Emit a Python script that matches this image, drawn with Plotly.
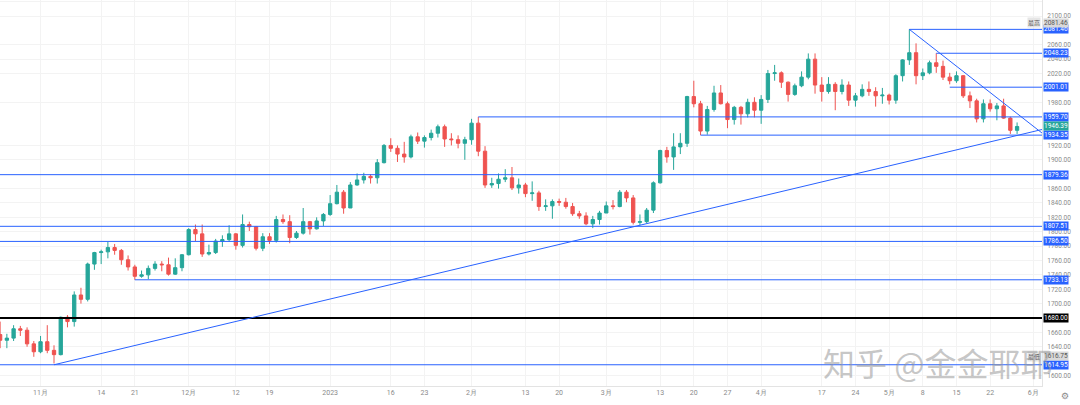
import plotly.graph_objects as go

# ---------------- data ----------------
dates = [
    "2022-10-24", "2022-10-25", "2022-10-26", "2022-10-27", "2022-10-28", "2022-10-31",
    "2022-11-01", "2022-11-02", "2022-11-03", "2022-11-04", "2022-11-07", "2022-11-08",
    "2022-11-09", "2022-11-10", "2022-11-11", "2022-11-14", "2022-11-15", "2022-11-16",
    "2022-11-17", "2022-11-18", "2022-11-21", "2022-11-22", "2022-11-23", "2022-11-24",
    "2022-11-25", "2022-11-28", "2022-11-29", "2022-11-30", "2022-12-01", "2022-12-02",
    "2022-12-05", "2022-12-06", "2022-12-07", "2022-12-08", "2022-12-09", "2022-12-12",
    "2022-12-13", "2022-12-14", "2022-12-15", "2022-12-16", "2022-12-19", "2022-12-20",
    "2022-12-21", "2022-12-22", "2022-12-23", "2022-12-27", "2022-12-28", "2022-12-29",
    "2022-12-30", "2023-01-03", "2023-01-04", "2023-01-05", "2023-01-06", "2023-01-09",
    "2023-01-10", "2023-01-11", "2023-01-12", "2023-01-13", "2023-01-16", "2023-01-17",
    "2023-01-18", "2023-01-19", "2023-01-20", "2023-01-23", "2023-01-24", "2023-01-25",
    "2023-01-26", "2023-01-27", "2023-01-30", "2023-01-31", "2023-02-01", "2023-02-02",
    "2023-02-03", "2023-02-06", "2023-02-07", "2023-02-08", "2023-02-09", "2023-02-10",
    "2023-02-13", "2023-02-14", "2023-02-15", "2023-02-16", "2023-02-17", "2023-02-20",
    "2023-02-21", "2023-02-22", "2023-02-23", "2023-02-24", "2023-02-27", "2023-02-28",
    "2023-03-01", "2023-03-02", "2023-03-03", "2023-03-06", "2023-03-07", "2023-03-08",
    "2023-03-09", "2023-03-10", "2023-03-13", "2023-03-14", "2023-03-15", "2023-03-16",
    "2023-03-17", "2023-03-20", "2023-03-21", "2023-03-22", "2023-03-23", "2023-03-24",
    "2023-03-27", "2023-03-28", "2023-03-29", "2023-03-30", "2023-03-31", "2023-04-03",
    "2023-04-04", "2023-04-05", "2023-04-06", "2023-04-10", "2023-04-11", "2023-04-12",
    "2023-04-13", "2023-04-14", "2023-04-17", "2023-04-18", "2023-04-19", "2023-04-20",
    "2023-04-21", "2023-04-24", "2023-04-25", "2023-04-26", "2023-04-27", "2023-04-28",
    "2023-05-01", "2023-05-02", "2023-05-03", "2023-05-04", "2023-05-05", "2023-05-08",
    "2023-05-09", "2023-05-10", "2023-05-11", "2023-05-12", "2023-05-15", "2023-05-16",
    "2023-05-17", "2023-05-18", "2023-05-19", "2023-05-22", "2023-05-23", "2023-05-24",
    "2023-05-25", "2023-05-26",
]

opens = [
    1657, 1649, 1652, 1665, 1663, 1644, 1633, 1647, 1635, 1629, 1681, 1675,
    1712, 1706, 1755, 1771, 1772, 1778, 1774, 1761, 1751, 1738, 1740, 1749,
    1755, 1754, 1741, 1750, 1768, 1803, 1797, 1769, 1771, 1787, 1789, 1797,
    1781, 1810, 1807, 1777, 1793, 1788, 1817, 1814, 1792, 1798, 1814, 1804,
    1815, 1824, 1839, 1855, 1833, 1865, 1872, 1877, 1875, 1896, 1920, 1916,
    1908, 1904, 1932, 1926, 1931, 1937, 1946, 1929, 1928, 1923, 1928, 1951,
    1912, 1865, 1867, 1873, 1875, 1861, 1865, 1853, 1854, 1835, 1836, 1842,
    1841, 1835, 1825, 1822, 1811, 1817, 1826, 1836, 1835, 1855, 1847, 1813,
    1814, 1830, 1868, 1913, 1904, 1918, 1923, 1988, 1978, 1940, 1970, 1993,
    1978, 1956, 1973, 1964, 1980, 1969, 1984, 2020, 2021, 2008, 1991, 2003,
    2015, 2040, 2004, 1995, 2005, 1995, 2004, 1983, 1989, 1998, 1995, 1989,
    1990, 1983, 2017, 2039, 2049, 2017, 2021, 2035, 2030, 2015, 2010, 2017,
    1989, 1982, 1957, 1978, 1971, 1975, 1958, 1941,
]
highs = [
    1675, 1658, 1670, 1669, 1667, 1648, 1655, 1670, 1642, 1682, 1684, 1717,
    1722, 1757, 1772, 1775, 1786, 1783, 1776, 1767, 1754, 1746, 1753, 1759,
    1759, 1764, 1763, 1769, 1805, 1810, 1810, 1782, 1790, 1795, 1809, 1798,
    1824, 1814, 1808, 1798, 1798, 1822, 1824, 1823, 1801, 1833, 1815, 1820,
    1826, 1851, 1865, 1858, 1869, 1881, 1882, 1880, 1901, 1922, 1930, 1920,
    1925, 1935, 1938, 1934, 1942, 1949, 1949, 1937, 1934, 1932, 1957, 1959.70,
    1919, 1875, 1881, 1887, 1890, 1874, 1868, 1870, 1857, 1845, 1845, 1846,
    1847, 1840, 1829, 1827, 1822, 1829, 1842, 1844, 1858, 1858, 1851, 1824,
    1833, 1870, 1914, 1918, 1937, 1937, 1989, 2010, 1982, 1975, 2003, 2004,
    1981, 1975, 1975, 1985, 1987, 1990, 2025, 2032, 2023, 2009, 2006, 2023,
    2048, 2048, 2015, 2015, 2008, 2012, 2009, 1993, 2005, 2009, 2001, 2000,
    1992, 2019, 2040, 2081.46, 2062, 2027, 2038, 2048.23, 2038, 2021, 2023, 2018,
    1995, 1985, 1984, 1984, 1979, 1985, 1960, 1952,
]
lows = [
    1638, 1638, 1648, 1655, 1640, 1626, 1631, 1631, 1616.75, 1628, 1667, 1668,
    1700, 1703, 1747, 1755, 1763, 1768, 1754, 1746, 1733.13, 1736, 1734, 1746,
    1745, 1739, 1740, 1745, 1767, 1787, 1765, 1767, 1769, 1779, 1786, 1775,
    1778, 1801, 1774, 1773, 1783, 1785, 1811, 1784, 1790, 1796, 1796, 1803,
    1808, 1822, 1838, 1825, 1833, 1864, 1867, 1867, 1867, 1895, 1911, 1897,
    1896, 1902, 1922, 1917, 1927, 1931, 1918, 1920, 1916, 1900, 1921, 1905,
    1861, 1861, 1860, 1869, 1858, 1853, 1848, 1843, 1829, 1829, 1818, 1836,
    1832, 1822, 1818, 1809, 1805, 1810, 1826, 1831, 1834, 1841, 1810, 1809,
    1812, 1826, 1867, 1896, 1886, 1908, 1918, 1973, 1934.35, 1935, 1967, 1977,
    1944, 1949, 1949, 1959, 1959, 1950, 1979, 2010, 2000, 1981, 1989, 2001,
    2012, 1992, 1981, 1992, 1969, 1991, 1975, 1974, 1987, 1989, 1974, 1978,
    1977, 1978, 2009, 2032, 2005, 2011, 2019, 2021, 2011, 2005, 2007, 1986,
    1972, 1952, 1952, 1967, 1955, 1957, 1936, 1936,
]
closes = [
    1649, 1652, 1665, 1663, 1644, 1633, 1647, 1635, 1629, 1681, 1675, 1712,
    1706, 1755, 1771, 1772, 1778, 1774, 1761, 1751, 1738, 1740, 1749, 1755,
    1754, 1741, 1750, 1768, 1803, 1797, 1769, 1771, 1787, 1789, 1797, 1781,
    1810, 1807, 1777, 1793, 1788, 1817, 1814, 1792, 1798, 1814, 1804, 1815,
    1824, 1839, 1855, 1833, 1865, 1872, 1877, 1875, 1896, 1920, 1916, 1908,
    1904, 1932, 1926, 1931, 1937, 1946, 1929, 1928, 1923, 1928, 1951, 1912,
    1865, 1867, 1873, 1875, 1861, 1865, 1853, 1854, 1835, 1836, 1842, 1841,
    1835, 1825, 1822, 1811, 1817, 1826, 1836, 1835, 1855, 1847, 1813, 1814,
    1830, 1868, 1913, 1904, 1918, 1923, 1988, 1978, 1940, 1970, 1993, 1978,
    1956, 1973, 1964, 1980, 1969, 1984, 2020, 2021, 2008, 1991, 2003, 2015,
    2040, 2004, 1995, 2005, 1995, 2004, 1983, 1989, 1998, 1995, 1989, 1990,
    1983, 2017, 2039, 2049, 2017, 2021, 2035, 2030, 2015, 2010, 2017, 1989,
    1982, 1957, 1978, 1971, 1975, 1958, 1941, 1946.39,
]

# x-axis labels (date where the label sits, and its text)
tick_dates = ["2022-10-24", "2022-11-01", "2022-11-14", "2022-11-21", "2022-12-01",
              "2022-12-12", "2022-12-19", "2023-01-03", "2023-01-16", "2023-01-23",
              "2023-02-01", "2023-02-13", "2023-02-20", "2023-03-01", "2023-03-13",
              "2023-03-20", "2023-03-27", "2023-04-03", "2023-04-17", "2023-04-24",
              "2023-05-01", "2023-05-08", "2023-05-15", "2023-05-22"]
tick_texts = ["24", "11月", "14", "21", "12月", "12", "19", "2023", "16", "23", "2月",
              "13", "20", "3月", "13", "20", "27", "4月", "17", "24", "5月", "8", "15", "22"]

# horizontal levels: price and start date (None = full width)
level_prices = [2081.46, 2048.23, 2001.01, 1959.70, 1934.35, 1879.36, 1807.51, 1786.50, 1733.13, 1614.95]
level_starts = ["2023-05-04", "2023-05-10", "2023-05-12", "2023-02-02", "2023-03-21",
                None, None, None, "2022-11-21", None]
key_level = 1680.00

# high / low markers on the price scale: tag, value, price where the label is drawn
high_mark = ("最高", max(highs), 2091.0)
low_mark = ("最低", min(lows), 1627.0)

# trend-line anchor points (date, price)
rise_anchor = [("2022-11-03", 1614.95), ("2023-03-08", 1809.0)]
fall_anchor = [("2023-05-04", 2081.46), ("2023-05-24", 1979.0)]

y_ticks = [1580, 1600, 1640, 1660, 1700, 1720, 1740, 1760, 1780, 1800, 1820,
           1840, 1860, 1900, 1920, 1980, 2020, 2040, 2060, 2100, 2120]

# ---------------- figure ----------------
W, H = 1080, 405
PLOT_R = 1042
PLOT_B = 386
X_RANGE = [-0.02, 154.7]
Y_RANGE = [1585.4, 2122.3]

xi = list(range(len(dates)))
pos = {d: i for i, d in enumerate(dates)}

GREEN = "#26a69a"
RED = "#ef5350"
BLUE = "#2962ff"

fig = go.Figure()
fig.add_trace(go.Candlestick(
    x=xi, open=opens, high=highs, low=lows, close=closes,
    increasing=dict(line=dict(color=GREEN, width=1), fillcolor=GREEN),
    decreasing=dict(line=dict(color=RED, width=1), fillcolor=RED),
    whiskerwidth=0, showlegend=False, hoverinfo="skip",
))

shapes = []
annotations = []

x_end = X_RANGE[1]
for p, s in zip(level_prices, level_starts):
    x0 = X_RANGE[0] if s is None else pos[s]
    shapes.append(dict(type="line", xref="x", yref="y", x0=x0, x1=x_end, y0=p, y1=p,
                       line=dict(color=BLUE, width=1)))
shapes.append(dict(type="line", xref="x", yref="y", x0=X_RANGE[0], x1=x_end,
                   y0=key_level, y1=key_level, line=dict(color="#000000", width=2)))


def trend(anchor):
    (d0, p0), (d1, p1) = anchor
    i0, i1 = pos[d0], pos[d1]
    slope = (p1 - p0) / (i1 - i0)
    return dict(type="line", xref="x", yref="y", x0=i0, y0=p0,
                x1=x_end, y1=p0 + slope * (x_end - i0),
                line=dict(color=BLUE, width=1))


shapes.append(trend(rise_anchor))
shapes.append(trend(fall_anchor))

LBL_FONT = dict(family="Roboto, Arial", size=6.5)


def price_label(y, text, bg, fg="white"):
    annotations.append(dict(xref="paper", yref="y", x=1, y=y, xanchor="left", yanchor="middle",
                            xshift=1, text=text, showarrow=False,
                            font=dict(LBL_FONT, color=fg), bgcolor=bg, borderpad=0))


for p in level_prices:
    price_label(p, f"{p:.2f}", BLUE)
price_label(key_level, f"{key_level:.2f}", "#000000")
price_label(closes[-1], f"{closes[-1]:.2f}", GREEN)
for tag, val, ypos in (high_mark, low_mark):
    price_label(ypos, f"{val:.2f}", "#d9d9d9", "#555555")
    annotations.append(dict(xref="paper", yref="y", x=1, y=ypos, xanchor="right", yanchor="middle",
                            xshift=-1, text=tag, showarrow=False,
                            font=dict(family="Noto Sans CJK SC", size=6, color="#555555"),
                            bgcolor="#e6e6e6", borderpad=0))

# watermark
annotations.append(dict(xref="paper", yref="paper", x=821 / PLOT_R, y=(PLOT_B - 362) / PLOT_B,
                        xanchor="left", yanchor="middle", text="知乎 @金金耶耶", showarrow=False,
                        font=dict(family="Noto Sans CJK SC", size=32, color="rgba(150,150,150,0.55)")))
# settings gear on the time scale
annotations.append(dict(xref="paper", yref="paper", x=1, y=0, xanchor="left", yanchor="top",
                        xshift=17, yshift=-3, text="⚙", showarrow=False,
                        font=dict(family="DejaVu Sans", size=9, color="#8a8a8a")))

fig.update_layout(
    width=W, height=H,
    margin=dict(l=0, r=W - PLOT_R, t=0, b=H - PLOT_B),
    paper_bgcolor="white", plot_bgcolor="white",
    shapes=shapes, annotations=annotations,
    xaxis=dict(range=X_RANGE, rangeslider=dict(visible=False),
               tickvals=[pos[d] for d in tick_dates] + [153.4],
               ticktext=tick_texts + ["6月"],
               tickfont=dict(family="Roboto, Arial", size=7, color="#8a8a8a"),
               showgrid=True, gridcolor="#f3f3f3", gridwidth=1,
               showline=True, linecolor="#e3e3e3", linewidth=1,
               ticks="", zeroline=False, fixedrange=True),
    yaxis=dict(range=Y_RANGE, side="right", tickvals=y_ticks,
               ticktext=[f"{v:.2f}" for v in y_ticks],
               tickfont=dict(family="Roboto, Arial", size=6.5, color="#8a8a8a"),
               showgrid=True, gridcolor="#f3f3f3", gridwidth=1,
               showline=True, linecolor="#e3e3e3", linewidth=1,
               ticks="", ticklabelstandoff=3, zeroline=False, fixedrange=True),
)

fig.write_html("out.html")
